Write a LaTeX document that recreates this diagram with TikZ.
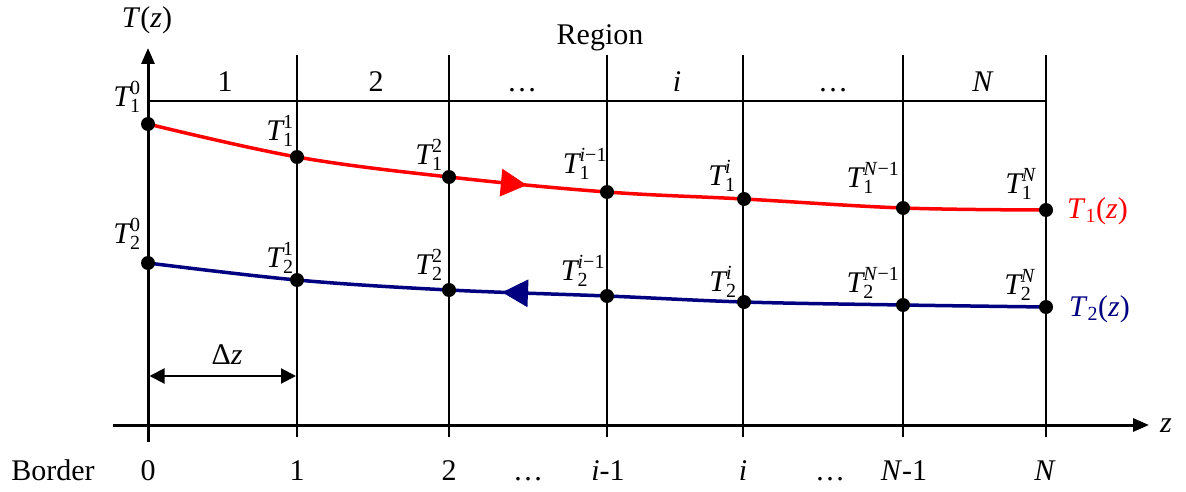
\documentclass[tikz,border=0pt]{standalone}
\usepackage{amsmath}
\usepackage{fontspec}
\setmainfont{Liberation Serif}
\usetikzlibrary{arrows.meta,decorations.markings}
\definecolor{tred}{RGB}{255,0,0}
\definecolor{tblue}{RGB}{0,0,128}
\newcommand\scr[1]{\hbox{\fontsize{20}{20}\selectfont #1}}
\newcommand\Tlab[2]{$\textit{T}^{\scr{#2}}_{\scr{#1}}$}
\begin{document}
\begin{tikzpicture}[x=1pt,y=-1pt,font=\fontsize{30}{36}\selectfont,
  axisline/.style={line width=3pt},
  gridline/.style={line width=1.5pt},
  dot/.style={circle,fill=black,inner sep=0pt,minimum size=14pt},
  redcurve/.style={tred,line width=3.5pt},
  bluecurve/.style={tblue,line width=3.5pt},
  lab/.style={inner sep=0pt},
  txt/.style={inner sep=0pt,anchor=base}]
\useasboundingbox (0,0) rectangle (1186,492);
% grid coordinates
\foreach \n/\x in {1/297,2/449,3/607,4/743,5/903,6/1046}{
  \coordinate (g\n t) at (\x,55);
  \coordinate (g\n b) at (\x,437);
}
\coordinate (topl) at (148,101);
\coordinate (topr) at (1046,101);
\coordinate (yb) at (148,442);
\coordinate (yt) at (148,48);
\coordinate (zl) at (113,425);
\coordinate (zr) at (1149,425);
% grid lines
\foreach \n in {1,...,6}{\draw[gridline] (g\n t) -- (g\n b);}
\draw[gridline] (topl) -- (topr);
% axes
\draw[axisline,-{Triangle[length=16pt,width=13pt]}] (zl) -- (zr);
\draw[axisline,-{Triangle[length=16pt,width=13pt]}] (yb) -- (yt);
% curve points
\foreach \n/\x/\y in {0/148/124,1/297/157,2/449/177,3/607/192,4/744/199,5/903/208,6/1046/210}{
  \coordinate (r\n) at (\x,\y);}
\foreach \n/\x/\y in {0/148/263,1/297/280,2/449/290,3/607/296,4/744/302,5/903/305,6/1046/307}{
  \coordinate (b\n) at (\x,\y);}
\draw[redcurve,postaction={decorate},decoration={markings,
  mark=at position 0.425 with {\arrow{Triangle[length=26pt,width=27pt]}}}]
  plot[smooth,tension=0.6] coordinates {(r0) (r1) (r2) (r3) (r4) (r5) (r6)};
\draw[bluecurve,postaction={decorate},decoration={markings,
  mark=at position 0.395 with {\arrowreversed{Triangle[length=26pt,width=27pt]}}}]
  plot[smooth,tension=0.6] coordinates {(b0) (b1) (b2) (b3) (b4) (b5) (b6)};
\foreach \n in {0,...,6}{
  \node[dot] (R\n) at (r\n) {};
  \node[dot] (B\n) at (b\n) {};}
% delta z
\coordinate (dz0) at (149.5,376);
\coordinate (dz1) at (296,376);
\draw[line width=2pt,{Triangle[length=15pt,width=15pt]}-{Triangle[length=15pt,width=15pt]}] (dz0) -- (dz1);
\node[txt] (dzl) at (227,364) {Δ\textit{z}};
% point labels
\node[lab] (l10) at (127,97) {\Tlab{1}{0}};
\node[lab] (l11) at (280,131) {\Tlab{1}{1}};
\node[lab] (l12) at (429,155) {\Tlab{1}{2}};
\node[lab] (l13) at (585,164) {\Tlab{1}{\textit{i}−1}};
\node[lab] (l14) at (722,176) {\Tlab{1}{\textit{i}}};
\node[lab] (l15) at (873,178) {\Tlab{1}{\textit{N}−1}};
\node[lab] (l16) at (1021,184) {\Tlab{1}{\textit{N}}};
\node[lab] (l20) at (127,234) {\Tlab{2}{0}};
\node[lab] (l21) at (280,258) {\Tlab{2}{1}};
\node[lab] (l22) at (429,265) {\Tlab{2}{2}};
\node[lab] (l23) at (583,271) {\Tlab{2}{\textit{i}−1}};
\node[lab] (l24) at (723,282) {\Tlab{2}{\textit{i}}};
\node[lab] (l25) at (873,283) {\Tlab{2}{\textit{N}−1}};
\node[lab] (l26) at (1020,285) {\Tlab{2}{\textit{N}}};
\node[lab,tred,anchor=west] (t1z) at (1067,211) {\textit{T}$_{\scr{1}}$(\textit{z})};
\node[lab,tblue,anchor=west] (t2z) at (1069,309) {\textit{T}$_{\scr{2}}$(\textit{z})};
% axis labels
\node[txt] (tz) at (147,28) {\textit{T}(\textit{z})};
\node[txt] (zz) at (1166,432) {\textit{z}};
\node[txt] (reg) at (600,45) {Region};
% region labels
\node[txt] (rg1) at (225,92) {1};
\node[txt] (rg2) at (376,92) {2};
\node[txt] (rg3) at (522,92) {…};
\node[txt] (rg4) at (677,92) {\textit{i}};
\node[txt] (rg5) at (833,92) {…};
\node[txt] (rg6) at (983,92) {\textit{N}};
% border labels
\node[txt] (bd) at (53,480) {Border};
\node[txt] (bd0) at (148,480) {0};
\node[txt] (bd1) at (297,480) {1};
\node[txt] (bd2) at (449,480) {2};
\node[txt] (bd3) at (528,480) {…};
\node[txt] (bd4) at (608,480) {\textit{i}-1};
\node[txt] (bd5) at (743,480) {\textit{i}};
\node[txt] (bd6) at (830,480) {…};
\node[txt] (bd7) at (904,480) {\textit{N}-1};
\node[txt] (bd8) at (1045,480) {\textit{N}};
\end{tikzpicture}
\end{document}
